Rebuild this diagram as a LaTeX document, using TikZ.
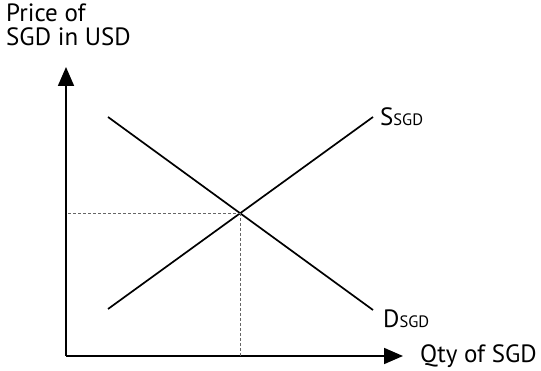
\documentclass[tikz,border=0pt]{standalone}
\usepackage{fontspec}
\setmainfont{PT Sans}
\usetikzlibrary{arrows.meta, positioning}

\newcommand{\sgd}{{\fontsize{16.5}{16.5}\selectfont SGD}}

\begin{document}
\begin{tikzpicture}[
    x=1pt, y=-1pt,
    axis/.style={line width=1.7pt, -{Triangle[length=19pt, width=16pt]}},
    curve/.style={line width=1.7pt},
    guide/.style={densely dashed, line width=0.9pt, color=black!60},
    lbl/.style={font=\fontsize{25}{24}\selectfont, inner sep=0pt},
]
    \useasboundingbox (0,0) rectangle (541,371);
    % axes
    \coordinate (orig) at (66,356);
    \coordinate (ytop) at (66,67);
    \coordinate (xend) at (403,356);
    \draw[axis] (orig) -- (ytop);
    \draw[axis] (orig) -- (xend);
    \node[lbl, anchor=north west, align=left] (ylab) at (6,4) {Price of\\SGD in USD};
    \node[lbl, right=17pt of xend] (xlab) {Qty of SGD};
    % supply and demand
    \coordinate (s1) at (108,309);
    \coordinate (s2) at (373,117);
    \coordinate (d1) at (108,117);
    \coordinate (d2) at (373,310);
    \draw[curve] (s1) -- (s2);
    \draw[curve] (d1) -- (d2);
    \node[lbl, anchor=base west] (slab) at (380,126) {S\sgd};
    \node[lbl, anchor=base west] (dlab) at (383,328) {D\sgd};
    % equilibrium
    \coordinate (eq) at (240.5,213);
    \draw[guide] (eq) -- (eq -| orig);
    \draw[guide] (eq) -- (eq |- orig);
\end{tikzpicture}
\end{document}
